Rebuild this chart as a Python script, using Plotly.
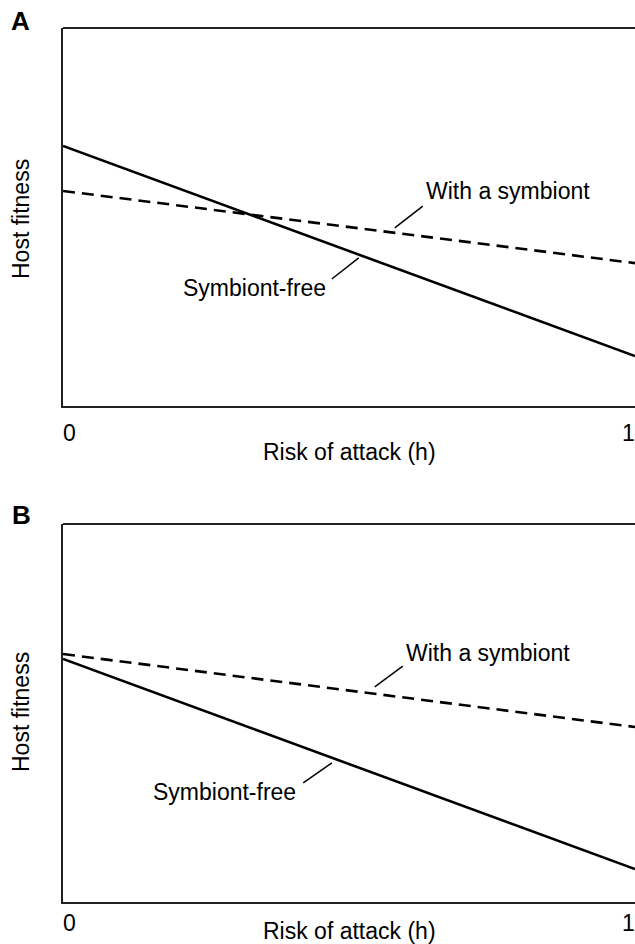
import plotly.graph_objects as go

# ---- data ----
risk = [0, 1]
a_symbiont_free = [0.688, 0.132]
a_with_symbiont = [0.569, 0.378]
b_symbiont_free = [0.643, 0.087]
b_with_symbiont = [0.656, 0.463]
tick_labels = ["0", "1"]
panel_labels = ["A", "B"]
x_title = "Risk of attack (h)"
y_title = "Host fitness"
lbl_with = "With a symbiont"
lbl_free = "Symbiont-free"

W, H = 635, 944
FONT = "Liberation Sans, Arial, sans-serif"
FS = 23

fig = go.Figure()

# panel A traces
fig.add_trace(go.Scatter(x=risk, y=a_symbiont_free, mode="lines",
                         line=dict(color="black", width=2.6), xaxis="x", yaxis="y"))
fig.add_trace(go.Scatter(x=risk, y=a_with_symbiont, mode="lines",
                         line=dict(color="black", width=2.6, dash="12px,7px"), xaxis="x", yaxis="y"))
# panel B traces
fig.add_trace(go.Scatter(x=risk, y=b_symbiont_free, mode="lines",
                         line=dict(color="black", width=2.6), xaxis="x2", yaxis="y2"))
fig.add_trace(go.Scatter(x=risk, y=b_with_symbiont, mode="lines",
                         line=dict(color="black", width=2.6, dash="12px,7px"), xaxis="x2", yaxis="y2"))

def pdom(top_px, bot_px):
    return [1 - bot_px / H, 1 - top_px / H]

xdom = [63 / W, 1]
ax_common = dict(range=[0, 1], showgrid=False, zeroline=False, showticklabels=False,
                 ticks="", showline=True, linecolor="#222", linewidth=2, fixedrange=True)

fig.update_layout(
    width=W, height=H,
    margin=dict(l=0, r=0, t=0, b=0),
    paper_bgcolor="white", plot_bgcolor="white",
    showlegend=False,
    font=dict(family=FONT, size=FS, color="black"),
    xaxis=dict(domain=xdom, anchor="y", **ax_common),
    yaxis=dict(domain=pdom(28, 406), anchor="x", **ax_common),
    xaxis2=dict(domain=xdom, anchor="y2", **ax_common),
    yaxis2=dict(domain=pdom(524, 902), anchor="x2", **ax_common),
)

shapes = []
# top borders
for xr, yr in (("x domain", "y domain"), ("x2 domain", "y2 domain")):
    shapes.append(dict(type="line", xref=xr, yref=yr, x0=0, x1=1, y0=1, y1=1,
                       line=dict(color="#222", width=2)))
# leader lines (panel A)
shapes.append(dict(type="line", xref="x", yref="y", x0=0.580, y0=0.471, x1=0.629, y1=0.529,
                   line=dict(color="black", width=1.5)))
shapes.append(dict(type="line", xref="x", yref="y", x0=0.470, y0=0.336, x1=0.517, y1=0.392,
                   line=dict(color="black", width=1.5)))
# leader lines (panel B)
shapes.append(dict(type="line", xref="x2", yref="y2", x0=0.545, y0=0.569, x1=0.594, y1=0.624,
                   line=dict(color="black", width=1.5)))
shapes.append(dict(type="line", xref="x2", yref="y2", x0=0.420, y0=0.315, x1=0.470, y1=0.368,
                   line=dict(color="black", width=1.5)))
fig.update_layout(shapes=shapes)

ann = []
def add(text, x, y, xref, yref, xanchor="center", yanchor="middle", size=FS, bold=False, angle=0):
    ann.append(dict(text=f"<b>{text}</b>" if bold else text, x=x, y=y, xref=xref, yref=yref,
                    xanchor=xanchor, yanchor=yanchor, showarrow=False, textangle=angle,
                    font=dict(family=FONT, size=size, color="black")))

# panel letters
add(panel_labels[0], 20 / W, 1 - 21 / H, "paper", "paper", size=26, bold=True)
add(panel_labels[1], 21 / W, 1 - 515 / H, "paper", "paper", size=26, bold=True)

# series labels
add(lbl_with, 0.631, 0.569, "x", "y", xanchor="left")
add(lbl_free, 0.463, 0.312, "x", "y", xanchor="right")
add(lbl_with, 0.596, 0.659, "x2", "y2", xanchor="left")
add(lbl_free, 0.411, 0.291, "x2", "y2", xanchor="right")

# tick labels and axis titles
for xr, lab_y, title_y in (("x", 433, 452), ("x2", 923, 931)):
    add(tick_labels[0], 69 / W, 1 - lab_y / H, "paper", "paper")
    add(tick_labels[1], 628 / W, 1 - lab_y / H, "paper", "paper")
    add(x_title, 0.5, 1 - title_y / H, xr + " domain", "paper")

add(y_title, 21 / W, 1 - 219 / H, "paper", "paper", angle=-90)
add(y_title, 21 / W, 1 - 712 / H, "paper", "paper", angle=-90)

fig.update_layout(annotations=ann)

fig.write_html(
    "out.html",
    config={"displayModeBar": False, "staticPlot": True},
    post_script="document.body.style.margin='0';document.body.style.overflow='hidden';",
)
